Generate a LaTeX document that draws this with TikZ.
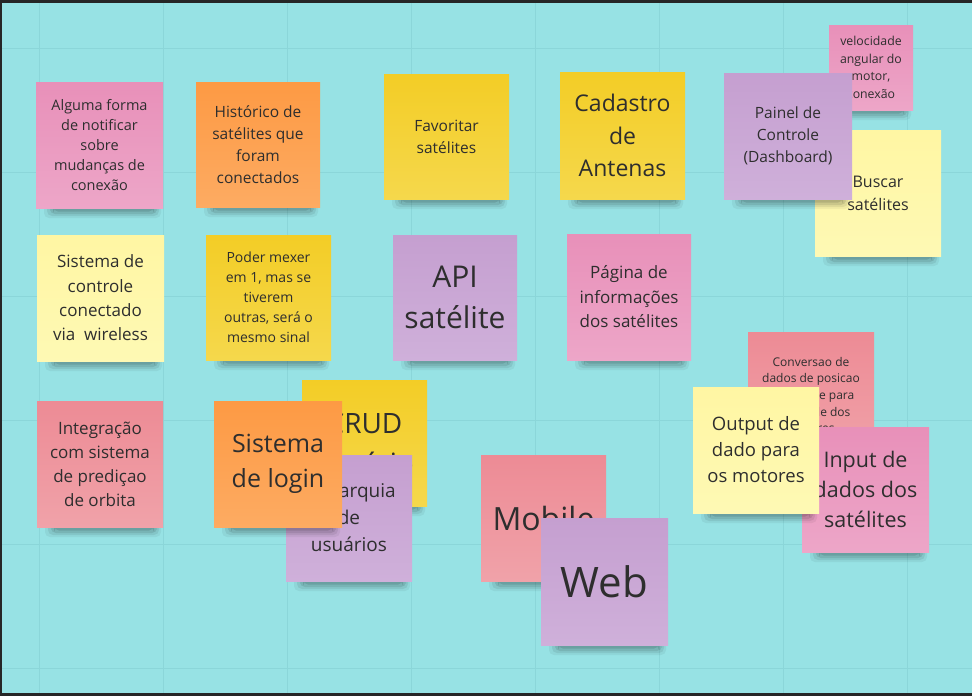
\documentclass[tikz,border=0pt]{standalone}
\usepackage{fontspec}
\setmainfont{Open Sans}
\definecolor{bg}{HTML}{97E2E4}
\definecolor{gridc}{HTML}{8BD6D9}
\definecolor{txt}{HTML}{2E2E2E}
\definecolor{pinkT}{HTML}{E890B9}
\definecolor{pinkB}{HTML}{EDA6C8}
\definecolor{orT}{HTML}{FD9A44}
\definecolor{orB}{HTML}{FDAB62}
\definecolor{yeT}{HTML}{F3CD26}
\definecolor{yeB}{HTML}{F5D84C}
\definecolor{lyT}{HTML}{FFF6A3}
\definecolor{lyB}{HTML}{FEF9B4}
\definecolor{puT}{HTML}{C59FD0}
\definecolor{puB}{HTML}{CFB0DA}
\definecolor{saT}{HTML}{ED8B95}
\definecolor{saB}{HTML}{F0A2A9}
\newcommand\fsz[2]{\fontsize{#1}{#2}\selectfont}
\tikzset{
  stickynote/.style={inner sep=0pt, outer sep=0pt, align=center, text=txt, rectangle},
  pinknote/.style={top color=pinkT, bottom color=pinkB},
  orangenote/.style={top color=orT, bottom color=orB},
  yellownote/.style={top color=yeT, bottom color=yeB},
  lightnote/.style={top color=lyT, bottom color=lyB},
  purplenote/.style={top color=puT, bottom color=puB},
  salmonnote/.style={top color=saT, bottom color=saB},
  notebox/.style={black, rounded corners=5pt},
}
% name, x, y, w, h, style, text
\newcommand\snote[7]{%
  \fill[notebox,opacity=.05] (#2+8,#3+#5-6) rectangle (#2+#4-2,#3+#5+10);
  \fill[notebox,opacity=.07] (#2+11,#3+#5-4) rectangle (#2+#4-4,#3+#5+8);
  \fill[notebox,opacity=.09] (#2+14,#3+#5-2) rectangle (#2+#4-6,#3+#5+6);
  \fill[notebox,opacity=.11] (#2+17,#3+#5) rectangle (#2+#4-9,#3+#5+3.5);
  \node[stickynote,#6,minimum width=#4,minimum height=#5] (#1) at (#2+#4/2,#3+#5/2) {#7};
}
\begin{document}
\begin{tikzpicture}[x=1pt,y=-1pt]
\useasboundingbox (0,0) rectangle (972,696);
\fill[bg] (0,0) rectangle (972,696);
\foreach \gx in {39,163,287,411,535,659,783,907} \draw[gridc,line width=1pt] (\gx,0) -- (\gx,696);
\foreach \gy in {48,172,296,420,544,668} \draw[gridc,line width=1pt] (0,\gy) -- (972,\gy);
\fill[black!85] (0,0) rectangle (972,3);
\fill[black!85] (0,0) rectangle (1.5,696);
\fill[black!85] (0,693) rectangle (972,696);

% row 1
\snote{alguma}{36}{82}{127}{126}{pinknote,font=\fsz{14.5}{20.2}}{Alguma forma\\de notificar\\sobre\\mudanças de\\conexão}
\snote{historico}{196}{82}{124}{125}{orangenote,font=\fsz{15.5}{22}}{Histórico de\\satélites que\\foram\\conectados}
\snote{favoritar}{384}{74}{125}{125}{yellownote,font=\fsz{15.5}{22}}{Favoritar\\satélites}
\snote{cadastro}{560}{72}{125}{127}{yellownote,font=\fsz{23}{32.5}}{Cadastro\\de\\Antenas}
\snote{velocidade}{829}{25}{84}{85}{pinknote,font=\fsz{12.3}{17.5}}{velocidade\\angular do\\motor,\\conexão}
\snote{buscar}{815}{130}{126}{126}{lightnote,font=\fsz{16}{23}}{Buscar\\satélites}
\snote{painel}{724}{73}{128}{126}{purplenote,font=\fsz{15.5}{22}}{Painel de\\Controle\\(Dashboard)}

% row 2
\snote{controle}{37}{235}{127}{126}{lightnote,font=\fsz{17}{24.3}}{Sistema de\\controle\\conectado\\via~ wireless}
\snote{poder}{206}{235}{125}{125}{yellownote,font=\fsz{14}{20}}{Poder mexer\\em 1, mas se\\tiverem\\outras, será o\\mesmo sinal}
\snote{api}{393}{235}{124}{125}{purplenote,font=\fsz{30}{41}}{API\\satélite}
\snote{pagina}{567}{234}{124}{126}{pinknote,font=\fsz{17}{24.5}}{Página de\\informações\\dos satélites}

% row 3 right
\snote{conversao}{748}{332}{126}{126}{salmonnote,font=\fsz{12}{16.7}}{Conversao de\\dados de posicao\\do satélite para\\angulo de dos\\motores}
\snote{input}{802}{427}{127}{125}{pinknote,font=\fsz{21.5}{30}}{Input de\\dados dos\\satélites}
\snote{output}{693}{387}{126}{126}{lightnote,font=\fsz{18.5}{26}}{Output de\\dado para\\os motores}

% row 3 left
\snote{integracao}{37}{401}{126}{126}{salmonnote,font=\fsz{17}{24}}{Integração\\com sistema\\de prediçao\\de orbita}
\snote{crud}{302}{380}{125}{126}{yellownote,font=\fsz{28}{40}}{CRUD\\usuário}
\snote{hierarquia}{286}{455}{126}{126}{purplenote,font=\fsz{19}{27}}{Hierarquia\\de\\usuários}
\snote{login}{214}{401}{128}{126}{orangenote,font=\fsz{25}{35}}{Sistema\\de login}

\snote{mobile}{481}{455}{125}{126}{salmonnote,font=\fsz{32}{40}}{Mobile}
\snote{web}{541}{518}{127}{127}{purplenote,font=\fsz{42}{50}}{Web}
\end{tikzpicture}
\end{document}
